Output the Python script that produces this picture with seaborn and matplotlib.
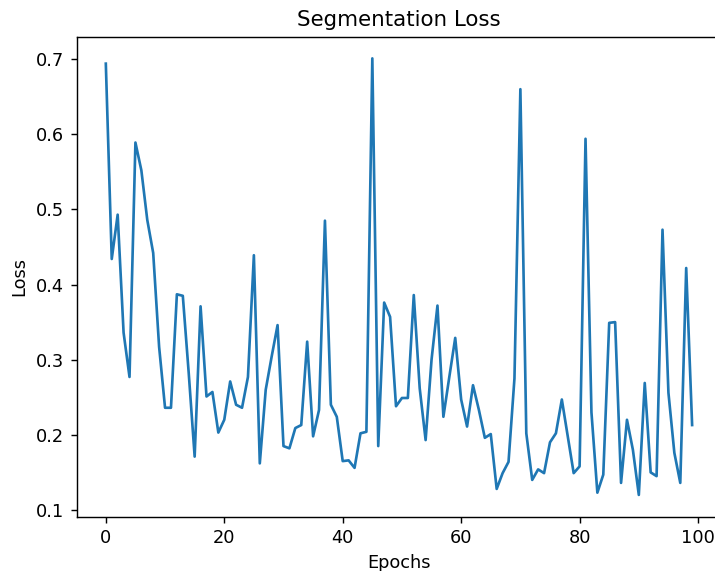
import numpy as np
import pandas as pd
import matplotlib
matplotlib.use('Agg')
import matplotlib.pyplot as plt
import seaborn as sns

# segmentation loss per epoch
epochs = list(range(100))
seg_loss = [0.694, 0.434, 0.493, 0.336, 0.277, 0.589, 0.552, 0.486, 0.442, 0.317,
            0.236, 0.236, 0.387, 0.385, 0.282, 0.171, 0.371, 0.251, 0.257, 0.203,
            0.220, 0.271, 0.240, 0.236, 0.277, 0.439, 0.162, 0.260, 0.304, 0.346,
            0.185, 0.182, 0.209, 0.213, 0.324, 0.198, 0.233, 0.485, 0.240, 0.224,
            0.165, 0.166, 0.156, 0.202, 0.204, 0.701, 0.185, 0.376, 0.357, 0.238,
            0.249, 0.249, 0.386, 0.262, 0.193, 0.300, 0.372, 0.224, 0.277, 0.329,
            0.247, 0.211, 0.266, 0.233, 0.196, 0.201, 0.128, 0.149, 0.164, 0.275,
            0.660, 0.202, 0.140, 0.154, 0.149, 0.190, 0.202, 0.247, 0.198, 0.149,
            0.158, 0.594, 0.230, 0.123, 0.147, 0.349, 0.350, 0.136, 0.220, 0.180,
            0.120, 0.269, 0.150, 0.145, 0.473, 0.256, 0.176, 0.136, 0.422, 0.213]

df = pd.DataFrame({'Epochs': epochs, 'Loss': seg_loss})

# reference looks like a hi-dpi screenshot, so render at ~128 dpi
dpi = 128
fig = plt.figure(figsize=(715 / dpi, 571 / dpi), dpi=dpi)
ax = fig.add_axes([0.107, 0.095, 0.902, 0.841])
sns.lineplot(data=df, x='Epochs', y='Loss', ax=ax)
ax.set_title('Segmentation Loss')
ax.set_xlabel('Epochs')
ax.set_ylabel('Loss')
fig.savefig('out.png', dpi=dpi)
